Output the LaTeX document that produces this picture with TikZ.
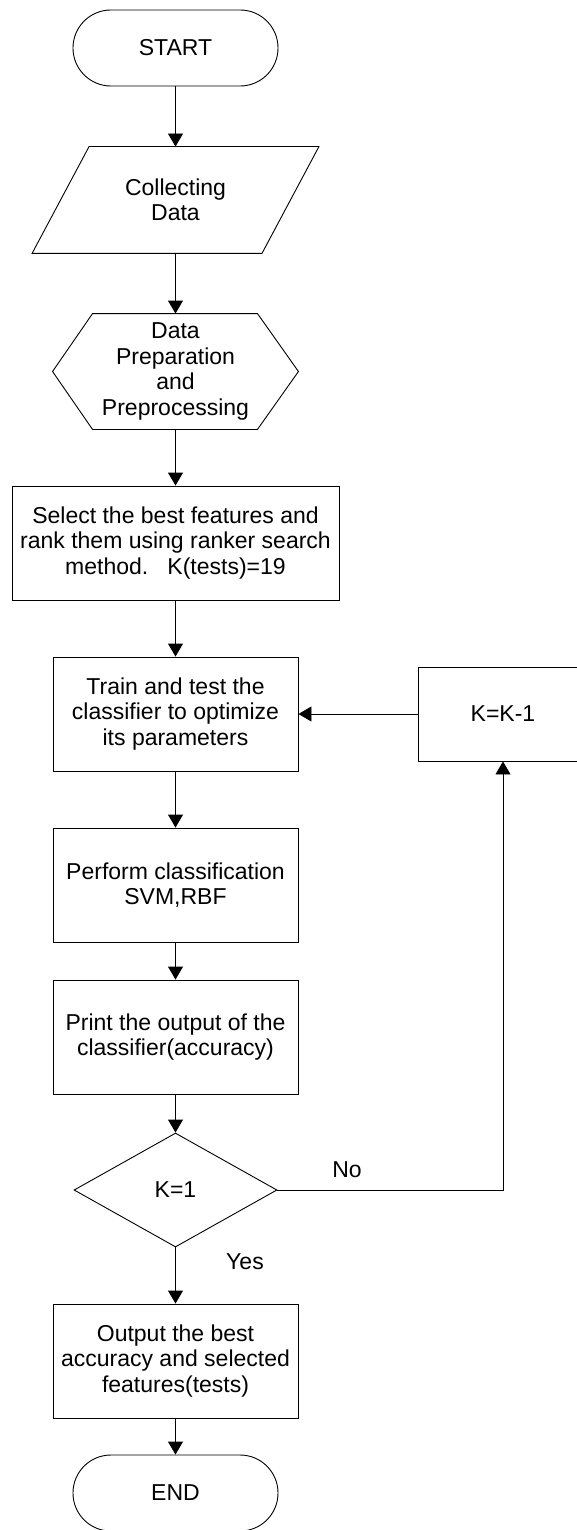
\documentclass[tikz,border=0pt]{standalone}
\usepackage{fontspec}
\setmainfont{Liberation Sans}
\usetikzlibrary{arrows.meta,shapes.geometric,calc}

\begin{document}
\begin{tikzpicture}[x=1pt,y=-1pt,line width=0.9pt,
  every node/.style={font=\fontsize{23}{25.5}\selectfont, align=center},
  term/.style={draw, rounded corners=37.9pt, minimum width=205pt, minimum height=76pt, inner sep=0pt},
  box/.style={draw, minimum width=245pt, minimum height=114pt, inner sep=2pt},
  blank/.style={inner sep=0pt},
  decide/.style={diamond, draw, aspect=1.78, minimum width=203pt, minimum height=114pt, inner sep=0pt},
  arr/.style={-{Triangle[length=13pt,width=15pt]}}]
\useasboundingbox (0,0) rectangle (577,1530);

\node[term] at (175.5,48) (start) {START};
\node[blank, minimum width=286pt, minimum height=106pt] at (175.5,200) (collect) {Collecting\\Data};
\draw (collect.south west) -- ($(collect.north west)+(57,0)$) -- (collect.north east) -- ($(collect.south east)+(-57,0)$) -- cycle;
\node[blank, minimum width=245pt, minimum height=115pt] at (175.5,371.5) (prep) {Data\\Preparation\\and\\Preprocessing};
\draw (prep.west) -- ($(prep.north west)+(40,0)$) -- ($(prep.north east)+(-41,0)$) -- (prep.east) -- ($(prep.south east)+(-41,0)$) -- ($(prep.south west)+(40,0)$) -- cycle;
\node[box, minimum width=327pt] at (175.5,543) (select) {Select the best features and\\rank them using ranker search\\method.~~~K(tests)=19};
\node[box] at (175.5,714) (train) {Train and test the\\classifier to optimize\\its parameters};
\node[box, minimum width=170pt, minimum height=94pt] at (503,714) (kdec) {K=K-1};
\node[box] at (175.5,885) (perform) {Perform classification\\SVM,RBF};
\node[box] at (175.5,1037) (print) {Print the output of the\\classifier(accuracy)};
\node[decide] at (175.5,1190) (kone) {K=1};
\node[box] at (175.5,1361) (output) {Output the best\\accuracy and selected\\features(tests)};
\node[term] at (175.5,1493) (end) {END};
\node at (347,1170) (no) {No};
\node at (245,1262) (yes) {Yes};

\draw[arr] (start) -- (collect);
\draw[arr] (collect) -- (prep);
\draw[arr] (prep) -- (select);
\draw[arr] (select) -- (train);
\draw[arr] (train) -- (perform);
\draw[arr] (perform) -- (print);
\draw[arr] (print) -- (kone);
\draw[arr] (kone) -- (output);
\draw[arr] (output) -- (end);
\draw[arr] (kone.east) -| (kdec.south);
\draw[arr] (kdec) -- (train);
\end{tikzpicture}
\end{document}
